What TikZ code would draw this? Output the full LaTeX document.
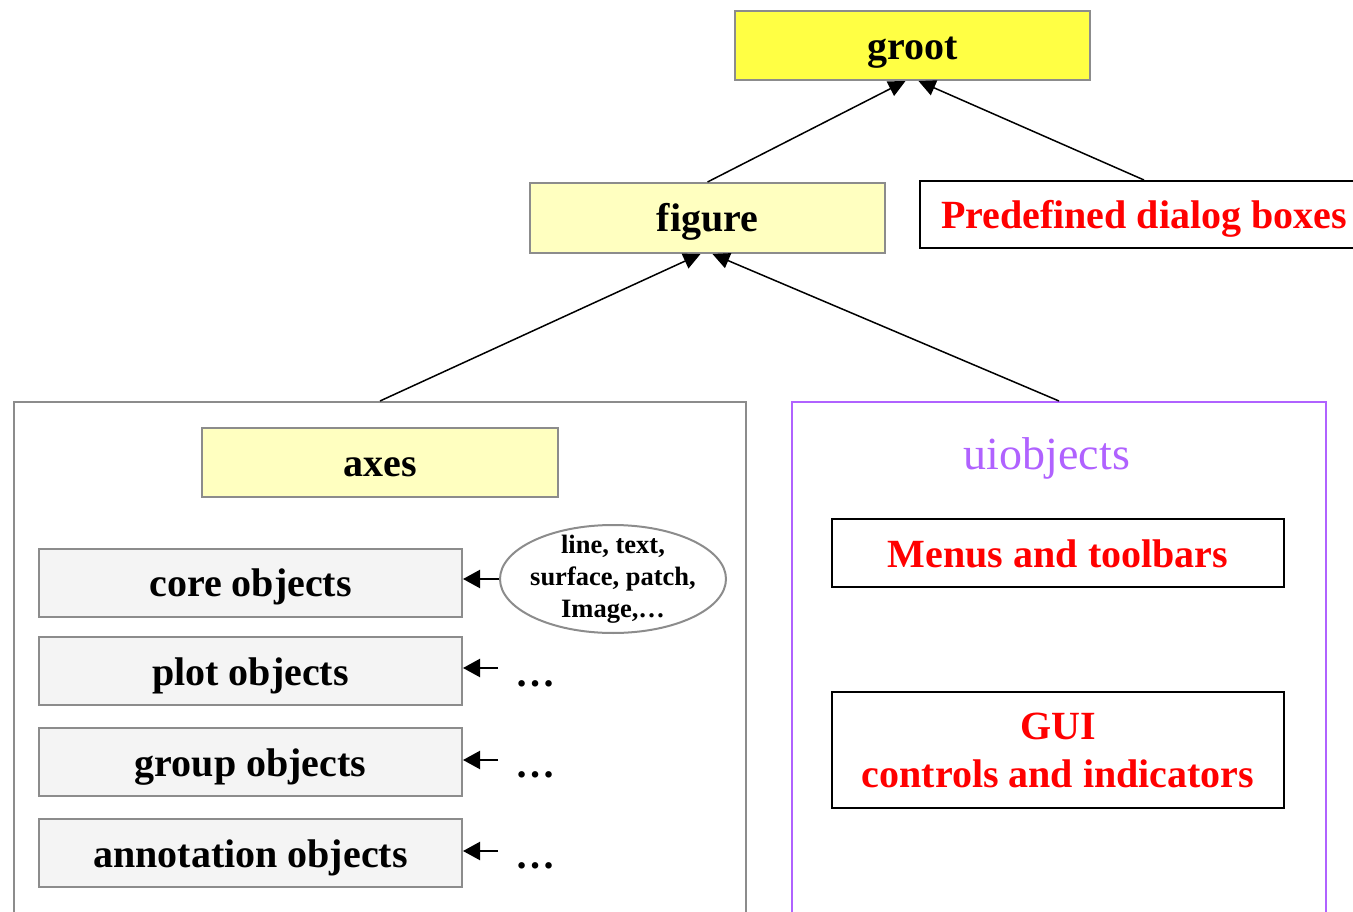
\documentclass[tikz,border=0pt]{standalone}
\usepackage{fontspec}
\setmainfont{Liberation Serif}
\usetikzlibrary{arrows.meta,shapes.geometric}
\definecolor{gbord}{HTML}{8C8C8C}
\definecolor{grootfill}{HTML}{FFFF44}
\definecolor{lyellow}{HTML}{FFFFC0}
\definecolor{lgray}{HTML}{F4F4F4}
\definecolor{uipurple}{HTML}{B062FF}
\definecolor{redtxt}{HTML}{FF0000}
\begin{document}
\begin{tikzpicture}[x=1pt,y=-1pt,
  big/.style={font=\fontsize{40}{48}\selectfont\bfseries},
  one/.style={text height=28pt,text depth=0pt},
  ybox/.style={draw=gbord,line width=2pt,fill=lyellow,inner sep=0pt,big,one},
  gbox/.style={draw=gbord,line width=2pt,fill=lgray,inner sep=0pt,big,one,minimum width=423pt,minimum height=68pt},
  rbox/.style={draw=black,line width=2pt,fill=white,inner sep=0pt,big,text=redtxt,align=center},
  conn/.style={line width=1.5pt,-{Triangle[length=17pt,width=16pt]}},
  sconn/.style={line width=2.2pt,-{Triangle[length=17pt,width=18pt]}},
  dots/.style={font=\fontsize{40}{48}\selectfont\bfseries,anchor=base,inner sep=0pt}]
\useasboundingbox (0,0) rectangle (1353,912);
% groups
\node[draw=gbord,line width=2pt,minimum width=732pt,minimum height=540pt,inner sep=0pt] (leftbox) at (380,672) {};
\node[draw=uipurple,line width=2pt,minimum width=534pt,minimum height=540pt,inner sep=0pt] (rightbox) at (1059,672) {};
% top
\node[ybox,fill=grootfill,minimum width=355pt,minimum height=69pt] (groot) at (912.5,45.5) {groot};
\node[ybox,minimum width=355pt,minimum height=70pt] (figure) at (707.5,218) {figure};
\node[rbox,one,minimum width=448pt,minimum height=67pt] (pred) at (1144,214.5) {Predefined dialog boxes};
% axes
\node[ybox,minimum width=356pt,minimum height=69pt] (axes) at (380,462.5) {axes};
\node[gbox] (core) at (250.5,582.5) {core objects};
\node[gbox] (plot) at (250.5,671) {plot objects};
\node[gbox] (group) at (250.5,762) {group objects};
\node[gbox] (annot) at (250.5,853) {annotation objects};
\node[ellipse,draw=gbord,line width=2pt,fill=white,minimum width=226pt,minimum height=108pt,inner sep=0pt] (ell) at (613,579) {};
\node[align=center,inner sep=0pt,font=\fontsize{26.5}{32}\selectfont\bfseries] (elltext) at (ell.center) {line, text,\\surface, patch,\\Image,\dots};
\coordinate (d1) at (498,668);
\coordinate (d2) at (498,760);
\coordinate (d3) at (498,851);
\node[dots] (dots1) at (535,686) {\dots};
\node[dots] (dots2) at (535,777) {\dots};
\node[dots] (dots3) at (535,868) {\dots};
% ui
\node[text=uipurple,font=\fontsize{46}{50}\selectfont,inner sep=0pt] (uilabel) at (1047,458) {uiobjects};
\node[rbox,one,minimum width=452pt,minimum height=68pt] (menus) at (1058,553) {Menus and toolbars};
\node[rbox,minimum width=452pt,minimum height=116pt] (gui) at (1058,750) {GUI\\controls and indicators};
% connectors
\draw[conn] (figure.north) -- ([xshift=-7pt]groot.south);
\draw[conn] (pred.north) -- ([xshift=6pt]groot.south);
\draw[conn] (leftbox.north) -- ([xshift=-7pt]figure.south);
\draw[conn] (rightbox.north) -- ([xshift=5pt]figure.south);
\draw[sconn] (ell.west) -- (ell.west -| core.east);
\draw[sconn] (d1) -- (d1 -| plot.east);
\draw[sconn] (d2) -- (d2 -| group.east);
\draw[sconn] (d3) -- (d3 -| annot.east);
\end{tikzpicture}
\end{document}
